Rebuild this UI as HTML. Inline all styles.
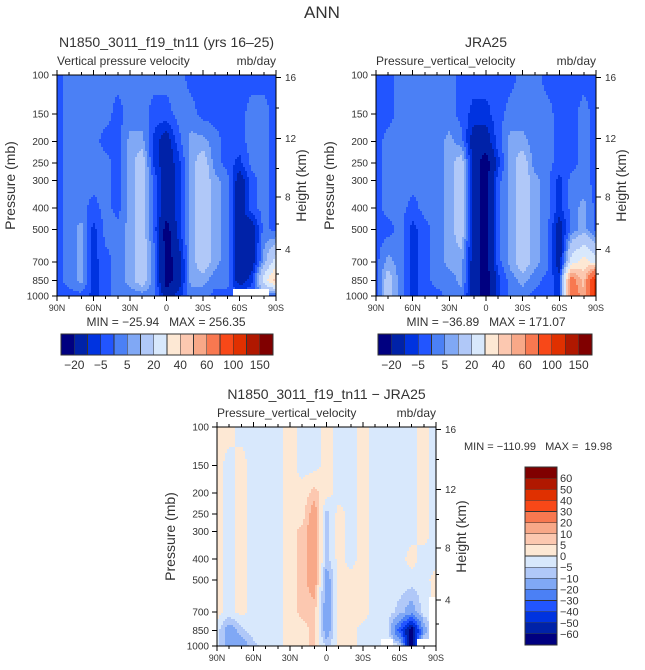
<!DOCTYPE html>
<html><head><meta charset="utf-8">
<style>
html,body{margin:0;padding:0;background:#fff;}
svg{display:block;font-family:"Liberation Sans",sans-serif;}
text{fill:#333;white-space:pre;}
</style></head>
<body>
<svg id="fig" width="645" height="670" viewBox="0 0 645 670" xmlns="http://www.w3.org/2000/svg" shape-rendering="crispEdges">
<text x="322" y="18" text-anchor="middle" font-size="17" fill="#555">ANN</text>
</svg>
<script>
const lats=[90,80,70,60,50,40,30,20,10,0,-10,-20,-30,-40,-50,-60,-70,-80,-90];
const plevs=[100,150,200,250,300,400,500,700,850,1000];
const topBounds=[-20,-10,-5,0,5,10,20,30,40,50,60,80,100,120,150];
const topBarLabels=["-20","-5","5","20","40","60","100","150"];
const diffBounds=[-60,-50,-40,-30,-20,-10,-5,0,5,10,20,30,40,50,60];
const diffBarLabels=["60","50","40","30","20","10","5","0","-5","-10","-20","-30","-40","-50","-60"];
const palette=["#000080","#0022a8","#0033e0","#2255ff","#4b80f5","#80a8f5","#b0c8f8","#d8e8fc","#fde8d4","#fcc8b0","#f8a888","#f87850","#f84818","#e03000","#b01800","#800000"];
const xTickLats=[90,60,30,0,-30,-60,-90];
const xTickLabels=["90N","60N","30N","0","30S","60S","90S"];
const pTickLabels=["100","150","200","250","300","400","500","700","850","1000"];
const heightTicks=[16,12,8,4];
const modelVals=[
[-2,2,2,2,2,2,2,2,2,2,2,-2,-2,-2,-2,-2,-2,-2,-2],
[-2,2,2,2,2,-2,2,2,-2,-2,2,2,-2,-2,-2,-2,2,2,-2],
[-2,2,2,2,-2,-2,7,7,-7,-15,-2,7,7,2,-2,-2,2,2,-2],
[-2,2,2,2,2,-2,7,15,-7,-15,-7,7,15,2,-2,-7,2,2,-2],
[-2,2,2,2,2,-2,7,15,-2,-15,-7,7,15,7,2,-15,-2,2,-2],
[-2,2,2,-2,2,-2,7,15,-2,-15,-7,7,15,7,2,-15,-2,2,-2],
[-2,2,7,-7,2,2,7,15,-2,-25,-7,7,15,7,2,-15,-15,2,-2],
[-2,2,7,-7,-2,2,7,15,2,-25,-15,7,15,7,2,-15,-15,7,25],
[-2,2,7,-7,-2,2,7,15,2,-25,-15,7,7,2,2,-15,-7,25,45],
[-2,-2,-2,-7,-2,2,2,2,2,-15,-7,2,2,-2,-2,null,null,null,-2]];
const obsVals=[
[-2,-2,2,2,2,2,2,-2,-2,-2,-2,-2,2,2,-2,-2,-2,-2,-2],
[-2,-2,2,2,2,2,2,-2,-7,-7,-2,2,2,2,2,-2,-2,2,-2],
[-2,2,2,2,2,2,7,2,-15,-15,-2,7,7,2,2,-2,-2,2,-2],
[-2,2,2,2,2,2,7,15,-15,-25,-7,7,15,2,2,-2,-2,2,-2],
[-2,2,2,2,2,2,7,15,-15,-25,-2,7,15,7,2,-7,2,2,-2],
[-2,2,2,-2,2,2,7,15,-15,-25,-2,7,15,7,2,-7,2,7,-2],
[-2,-2,2,-7,-2,2,7,15,-15,-25,-2,7,15,7,2,-15,2,7,-2],
[-2,7,2,-7,-2,2,7,7,-15,-25,-2,7,15,7,2,-15,25,35,25],
[-2,15,2,-7,-2,2,2,7,-15,-25,-7,2,7,2,-2,-7,70,45,110],
[-2,15,2,-7,-2,-2,2,2,-15,-25,-7,2,2,-2,-2,-7,70,55,110]];
const diffVals=[
[2,2,-2,-2,-2,-2,2,-2,-2,2,-2,-2,2,-2,-2,-2,-2,2,-2],
[2,-2,2,-2,-2,-2,2,-2,-2,2,-2,-2,2,-2,-2,-2,-2,2,-2],
[2,-2,2,-2,-2,-2,2,2,7,2,-2,-2,2,-2,-2,-2,-2,2,-2],
[2,-2,2,-2,-2,-2,2,2,15,-7,2,-2,2,-2,-2,-2,-2,2,-2],
[2,-2,2,-2,-2,-2,2,7,15,-7,2,-2,2,-2,-2,-2,-2,2,-2],
[2,-2,2,-2,-2,-2,2,7,15,-7,2,-2,2,-2,-2,-2,2,-2,-2],
[2,-2,2,-2,-2,-2,2,7,15,-15,2,2,2,-2,-2,-2,-2,-2,2],
[2,-2,2,-2,-2,-2,2,7,7,-15,2,2,2,-2,-2,-7,-15,-2,null],
[-2,-15,-7,-2,-2,-2,2,2,7,-15,2,2,-2,-2,-2,-35,-70,-15,null],
[-2,-15,-15,-7,-2,-2,2,2,7,-7,2,2,-2,-2,null,-2,-70,null,null]];

const NS="http://www.w3.org/2000/svg";
const svg=document.getElementById('fig');
function el(tag,attrs,parent){const e=document.createElementNS(NS,tag);for(const k in attrs)e.setAttribute(k,attrs[k]);(parent||svg).appendChild(e);return e;}
function txt(s,attrs,parent){const e=el('text',attrs,parent);e.textContent=s;return e;}
function colorIdx(v,b){let i=0;for(const x of b){if(v>=x)i++;}return i;}
function zToP(zkm){const z=zkm*1000;if(z<=11000)return 1013.25*Math.pow(1-2.25577e-5*z,5.25588);return 226.32*Math.exp(-(z-11000)/6341.6);}

// value of the field at fractional grid position (bilinear between grid nodes, for contour-style fill)
function sample(vals,fc,fr){
  const c0=Math.max(0,Math.min(lats.length-2,Math.floor(fc))),r0=Math.max(0,Math.min(plevs.length-2,Math.floor(fr)));
  const tc=Math.max(0,Math.min(1,fc-c0)),tr=Math.max(0,Math.min(1,fr-r0));
  const nr=Math.round(fr),nc=Math.round(fc);
  if(vals[Math.max(0,Math.min(plevs.length-1,nr))][Math.max(0,Math.min(lats.length-1,nc))]===null)return null;
  const g=(r,c)=>{const v=vals[r][c];return v===null?0:v;};
  return (1-tr)*((1-tc)*g(r0,c0)+tc*g(r0,c0+1))+tr*((1-tc)*g(r0+1,c0)+tc*g(r0+1,c0+1));
}

function plot(o){
  const xs=lat=>o.x0+(90-lat)/180*o.w;
  const ys=p=>o.y0+Math.log10(p/100)*o.h;
  const lp=plevs.map(p=>Math.log10(p));
  const g=el('g',{});
  
  
  const step=2;
  for(let py=0;py<o.h;py+=step){
    const l=Math.log10(100)+(py+step/2)/o.h;
    let fr=0;for(let r=0;r<lp.length-1;r++){if(l>=lp[r]&&l<=lp[r+1]){fr=r+(l-lp[r])/(lp[r+1]-lp[r]);break;} if(l>lp[lp.length-1])fr=lp.length-1;}
    let runStart=0,runCol=null;
    const hh=Math.min(step,o.h-py);
    const flush=(endX)=>{if(runCol!==null){const rc=el('rect',{x:o.x0+runStart,y:o.y0+py,width:endX-runStart,height:hh,fill:runCol},g);
      
      }};
    for(let px=0;px<o.w;px+=step){
      const lat=90-(px+step/2)/o.w*180;
      const fc=(90-lat)/10;
      const v=sample(o.vals,fc,fr);
      const col=v===null?'#ffffff':palette[colorIdx(v,o.bounds)];
      if(col!==runCol){flush(px);runStart=px;runCol=col;}
    }
    flush(o.w);
  }
  const fr=el('rect',{x:o.x0,y:o.y0,width:o.w,height:o.h,fill:'none',stroke:'#000','stroke-width':1});
  
  
  for(let lat=90;lat>=-90;lat-=10){
    const x=xs(lat);const major=lat%30===0;const L=major?5:3;
    el('line',{x1:x,x2:x,y1:o.y0+o.h,y2:o.y0+o.h+L,stroke:'#000'});
    el('line',{x1:x,x2:x,y1:o.y0,y2:o.y0-L,stroke:'#000'});
  }
  xTickLats.forEach((lat,i)=>{const t=txt(xTickLabels[i],{x:xs(lat),y:o.y0+o.h+15,'text-anchor':'middle','font-size':9});
    });
  plevs.forEach((p,i)=>{const y=ys(p);el('line',{x1:o.x0-5,x2:o.x0,y1:y,y2:y,stroke:'#000'});
    const t=txt(pTickLabels[i],{x:o.x0-8,y:y+3.5,'text-anchor':'end','font-size':10});
    });
  heightTicks.forEach(z=>{const y=ys(zToP(z));const x=o.x0+o.w;el('line',{x1:x,x2:x+5,y1:y,y2:y,stroke:'#000'});
    const t=txt(String(z),{x:x+9,y:y+3.5,'font-size':10});
    });
  for(let z=2;z<=16;z+=2){if(z%4===0)continue;const y=ys(zToP(z));if(y<o.y0)continue;el('line',{x1:o.x0+o.w,x2:o.x0+o.w+3,y1:y,y2:y,stroke:'#000'});}
  const cy=o.y0+o.h/2;
  let t=txt('Pressure (mb)',{x:o.x0-42,y:cy,'text-anchor':'middle','font-size':14,transform:`rotate(-90 ${o.x0-42} ${cy})`});
  
  t=txt('Height (km)',{x:o.x0+o.w+30,y:cy,'text-anchor':'middle','font-size':14,transform:`rotate(-90 ${o.x0+o.w+30} ${cy})`});
  
  t=txt(o.title,{x:o.x0+o.w/2,y:o.y0-28,'text-anchor':'middle','font-size':14});
  
  t=txt(o.sub,{x:o.x0,y:o.y0-10,'font-size':12});
  
  t=txt('mb/day',{x:o.x0+o.w,y:o.y0-10,'text-anchor':'end','font-size':12});
  
}

function hbar(x0,y0,w,h,name){
  const bw=w/palette.length;
  palette.forEach((c,i)=>{const r=el('rect',{x:x0+i*bw,y:y0,width:bw,height:h,fill:c,stroke:'#333','stroke-width':0.6});
    });
  topBarLabels.forEach((s,i)=>{const t=txt(s.replace('-','\u2212'),{x:x0+(2*i+1)*bw,y:y0+h+14,'text-anchor':'middle','font-size':12});
    });
}

plot({x0:57,y0:75,w:219,h:221,vals:modelVals,bounds:topBounds,name:'model-plot',title:'N1850_3011_f19_tn11 (yrs 16\u201325)',sub:'Vertical pressure velocity'});
plot({x0:376,y0:75,w:220,h:221,vals:obsVals,bounds:topBounds,name:'obs-plot',title:'JRA25',sub:'Pressure_vertical_velocity'});
plot({x0:217,y0:427,w:219,h:219,vals:diffVals,bounds:diffBounds,name:'diff-plot',title:'N1850_3011_f19_tn11 \u2212 JRA25',sub:'Pressure_vertical_velocity'});

let t=txt('MIN = \u221225.94   MAX = 256.35',{x:166,y:326,'text-anchor':'middle','font-size':12});

t=txt('MIN = \u221236.89   MAX = 171.07',{x:486,y:326,'text-anchor':'middle','font-size':12});

t=txt('MIN = \u2212110.99   MAX =  19.98',{x:464,y:450,'font-size':11});


hbar(61,334,212,21,'model-colorbar');
hbar(378,334,214,21,'obs-colorbar');

(function(){const x0=525,y0=467,w=32,h=178;const bh=h/palette.length;
  for(let i=0;i<palette.length;i++){const r=el('rect',{x:x0,y:y0+i*bh,width:w,height:bh,fill:palette[palette.length-1-i],stroke:'#333','stroke-width':0.6});
    }
  diffBarLabels.forEach((s,i)=>{const t=txt(s.replace('-','\u2212'),{x:x0+w+3,y:y0+(i+1)*bh+4,'font-size':11});
    });
})();
</script>
</body></html>
